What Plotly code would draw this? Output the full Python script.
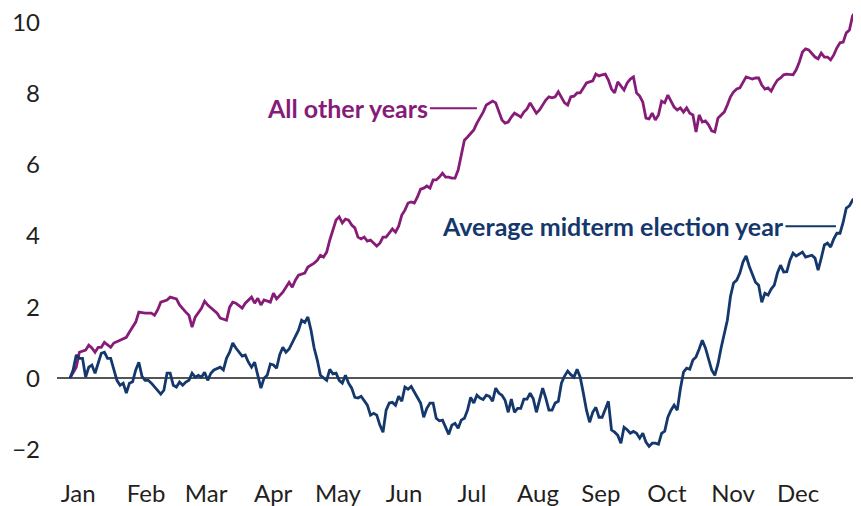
import plotly.graph_objects as go

# trading-day index (0 = first session of January) and cumulative return, %
purple_days = [0, 2, 3, 5, 6, 7, 8, 9, 10, 11, 13, 14, 16, 18, 19, 21, 22, 24, 26, 27,
               28, 29, 31, 32, 34, 35, 37, 38, 39, 40, 42, 43, 44, 46, 47, 48, 50, 51, 52, 53,
               55, 56, 58, 59, 60, 61, 62, 64, 65, 66, 68, 69, 70, 71, 72, 73, 75, 76, 78, 79,
               80, 81, 82, 83, 84, 85, 86, 87, 88, 89, 90, 91, 92, 93, 94, 95, 96, 97, 98, 99,
               100, 101, 102, 103, 104, 105, 106, 107, 108, 109, 110, 111, 112, 113, 114, 115, 116, 117, 118, 119,
               120, 121, 122, 123, 124, 125, 126, 127, 128, 129, 130, 131, 132, 133, 134, 135, 136, 137, 138, 139,
               140, 141, 142, 143, 144, 145, 146, 147, 148, 149, 150, 151, 152, 153, 154, 155, 156, 158, 159, 160,
               161, 162, 163, 164, 165, 166, 167, 168, 169, 170, 171, 172, 173, 174, 175, 177, 178, 179, 180, 181,
               182, 183, 184, 185, 186, 187, 188, 189, 190, 191, 192, 193, 194, 195, 196, 197, 198, 199, 200, 201,
               202, 203, 204, 205, 206, 207, 208, 209, 210, 211, 212, 213, 214, 215, 216, 217, 218, 219, 220, 221,
               222, 223, 224, 225, 226, 227, 228, 229, 231, 232, 233, 234, 235, 236, 237, 238, 239, 240, 241, 242,
               243, 244, 245, 246, 247, 248, 249, 250, 251]
purple_values = [0.00, 0.31, 0.73, 0.79, 0.93, 0.85, 0.73, 0.87, 0.87, 1.01, 0.87, 0.99, 1.07, 1.15, 1.30, 1.58, 1.86, 1.83, 1.83, 1.77,
                 1.92, 2.14, 2.20, 2.28, 2.23, 2.06, 1.86, 1.77, 1.44, 1.72, 1.97, 2.17, 2.06, 1.92, 1.83, 1.69, 1.63, 2.00, 2.14, 2.11,
                 1.97, 2.11, 2.28, 2.11, 2.25, 2.06, 2.20, 2.14, 2.39, 2.23, 2.42, 2.56, 2.70, 2.56, 2.76, 2.90, 2.96, 3.13, 3.24, 3.32,
                 3.46, 3.41, 3.55, 3.89, 4.20, 4.45, 4.54, 4.37, 4.48, 4.45, 4.31, 4.23, 3.97, 3.92, 3.97, 3.86, 3.89, 3.80, 3.72, 3.80,
                 3.97, 3.97, 4.08, 4.20, 4.11, 4.28, 4.59, 4.73, 4.93, 4.96, 4.93, 5.10, 5.32, 5.35, 5.41, 5.35, 5.58, 5.58, 5.66, 5.77,
                 5.66, 5.66, 5.63, 5.63, 5.86, 6.25, 6.70, 6.79, 6.90, 6.99, 7.18, 7.32, 7.49, 7.69, 7.75, 7.80, 7.75, 7.49, 7.27, 7.18,
                 7.21, 7.35, 7.46, 7.41, 7.35, 7.49, 7.58, 7.75, 7.61, 7.46, 7.55, 7.69, 7.83, 7.92, 7.89, 7.92, 8.06, 7.75, 7.69, 7.92,
                 7.94, 8.03, 8.03, 8.17, 8.31, 8.34, 8.37, 8.56, 8.51, 8.54, 8.56, 8.39, 8.14, 8.03, 8.34, 8.11, 8.31, 8.42, 8.48, 8.03,
                 7.94, 7.77, 7.32, 7.30, 7.46, 7.27, 7.41, 7.80, 7.75, 7.97, 7.80, 7.63, 7.55, 7.61, 7.49, 7.61, 7.46, 7.41, 6.93, 7.41,
                 7.21, 7.24, 7.13, 6.96, 6.93, 7.32, 7.41, 7.49, 7.69, 7.92, 8.06, 8.14, 8.17, 8.31, 8.48, 8.45, 8.42, 8.45, 8.45, 8.25,
                 8.14, 8.17, 8.08, 8.25, 8.39, 8.45, 8.54, 8.56, 8.54, 8.68, 8.90, 9.18, 9.27, 9.24, 9.13, 9.04, 8.99, 9.15, 9.04, 9.04,
                 8.96, 9.10, 9.30, 9.44, 9.46, 9.72, 9.80, 10.20, 10.31]

# average midterm election year, one value per trading day
navy_values = [0.00, 0.23, 0.65, 0.56, 0.56, 0.03, 0.31, 0.37, 0.14, 0.45,
               0.70, 0.73, 0.56, 0.56, 0.23, -0.06, -0.20, -0.14, -0.42, -0.14,
               -0.10, 0.23, 0.45, 0.05, -0.06, -0.06, -0.14, -0.25, -0.34, -0.45,
               -0.34, 0.14, 0.14, -0.20, -0.25, -0.11, -0.20, -0.11, -0.06, 0.14,
               0.03, 0.08, 0.03, 0.17, -0.06, 0.14, 0.23, 0.28, 0.31, 0.23,
               0.56, 0.73, 0.99, 0.85, 0.73, 0.62, 0.65, 0.45, 0.31, 0.45,
               0.08, -0.28, 0.00, 0.08, 0.40, 0.37, 0.28, 0.66, 0.87, 0.73,
               0.82, 1.01, 1.15, 1.35, 1.63, 1.57, 1.72, 1.35, 0.85, 0.51,
               0.08, 0.00, -0.06, 0.25, 0.12, 0.14, -0.06, -0.14, 0.08, -0.14,
               -0.28, -0.54, -0.56, -0.51, -0.62, -0.76, -1.04, -0.99, -1.04, -1.32,
               -1.52, -0.90, -0.70, -0.68, -0.76, -0.51, -0.65, -0.25, -0.31, -0.23,
               -0.39, -0.54, -0.70, -1.10, -0.85, -0.70, -0.70, -1.13, -1.20, -1.18,
               -1.38, -1.58, -1.32, -1.27, -1.41, -1.18, -1.13, -0.90, -0.54, -0.70,
               -0.48, -0.56, -0.60, -0.48, -0.51, -0.65, -0.28, -0.42, -0.48, -0.62,
               -0.96, -0.59, -0.96, -0.85, -0.85, -0.59, -0.59, -0.42, -0.58, -0.96,
               -0.62, -0.28, -0.56, -0.90, -0.90, -0.70, -0.65, -0.14, 0.06, 0.20,
               0.10, 0.03, 0.25, 0.03, -0.42, -0.90, -1.24, -0.96, -0.82, -1.10,
               -1.10, -0.85, -0.65, -1.46, -1.52, -1.61, -1.83, -1.38, -1.45, -1.55,
               -1.50, -1.55, -1.69, -1.55, -1.80, -1.92, -1.83, -1.83, -1.86, -1.55,
               -1.49, -1.10, -0.90, -0.76, -0.90, -0.30, 0.17, 0.28, 0.25, 0.51,
               0.60, 0.82, 1.07, 0.85, 0.56, 0.23, 0.08, 0.40, 0.85, 1.27,
               1.63, 2.30, 2.68, 2.76, 2.96, 3.27, 3.44, 3.15, 2.90, 2.70,
               2.62, 2.14, 2.39, 2.34, 2.51, 2.62, 2.96, 3.18, 2.99, 3.00,
               3.32, 3.52, 3.44, 3.49, 3.55, 3.41, 3.44, 3.46, 3.38, 3.04,
               3.38, 3.75, 3.80, 3.69, 3.92, 4.08, 4.08, 4.39, 4.79, 4.85,
               5.01, 5.10]
navy_days = list(range(len(navy_values)))

month_labels = ["Jan", "Feb", "Mar", "Apr", "May", "Jun", "Jul", "Aug", "Sep", "Oct", "Nov", "Dec"]
month_ticks = [2.6, 24.3, 43.5, 64.9, 85.6, 106.7, 128.4, 149.5, 169.6, 190.7, 211.8, 232.6]
y_ticks = [-2, 0, 2, 4, 6, 8, 10]

PURPLE = "#861c78"
NAVY = "#14386c"
FONT = "Lato, 'Open Sans', sans-serif"

fig = go.Figure()
fig.add_trace(go.Scatter(x=purple_days, y=purple_values, mode="lines", name="All other years",
                         line=dict(color=PURPLE, width=2.8), hoverinfo="skip"))
fig.add_trace(go.Scatter(x=navy_days, y=navy_values, mode="lines", name="Average midterm election year",
                         line=dict(color=NAVY, width=2.8), hoverinfo="skip"))

# etiquetas con su trazo horizontal hasta la curva
fig.add_annotation(x=130, y=7.6, text="<b>All other years</b>", showarrow=True, arrowhead=0,
                   arrowwidth=2, arrowcolor=PURPLE, ax=-129, ay=0,
                   font=dict(family=FONT, size=25, color=PURPLE))
fig.add_annotation(x=244.7, y=4.28, text="<b>Average midterm election year</b>", showarrow=True,
                   arrowhead=0, arrowwidth=2, arrowcolor=NAVY, ax=-223, ay=0,
                   font=dict(family=FONT, size=25, color=NAVY))

# la página tiene 8 px de margen en el body: la figura ocupa 853x498
fig.update_layout(
    width=853, height=498,
    margin=dict(l=49, r=0, t=0, b=39),
    paper_bgcolor="white", plot_bgcolor="white",
    showlegend=False,
    font=dict(family=FONT, size=24, color="#231f20"),
    xaxis=dict(range=[-4.15, 252.7], tickvals=month_ticks, ticktext=month_labels,
               showgrid=False, zeroline=False, showline=False, ticks="",
               ticklabelstandoff=10, ticklabeloverflow="allow", automargin=False),
    yaxis=dict(range=[-2.5, 10.42], tickvals=y_ticks,
               ticktext=["\u22122" if v < 0 else str(v) for v in y_ticks],
               showgrid=False, showline=False, ticks="",
               zeroline=True, zerolinecolor="#555555", zerolinewidth=2,
               ticklabelstandoff=16, ticklabeloverflow="allow", automargin=False),
)

fig.write_html("out.html")
